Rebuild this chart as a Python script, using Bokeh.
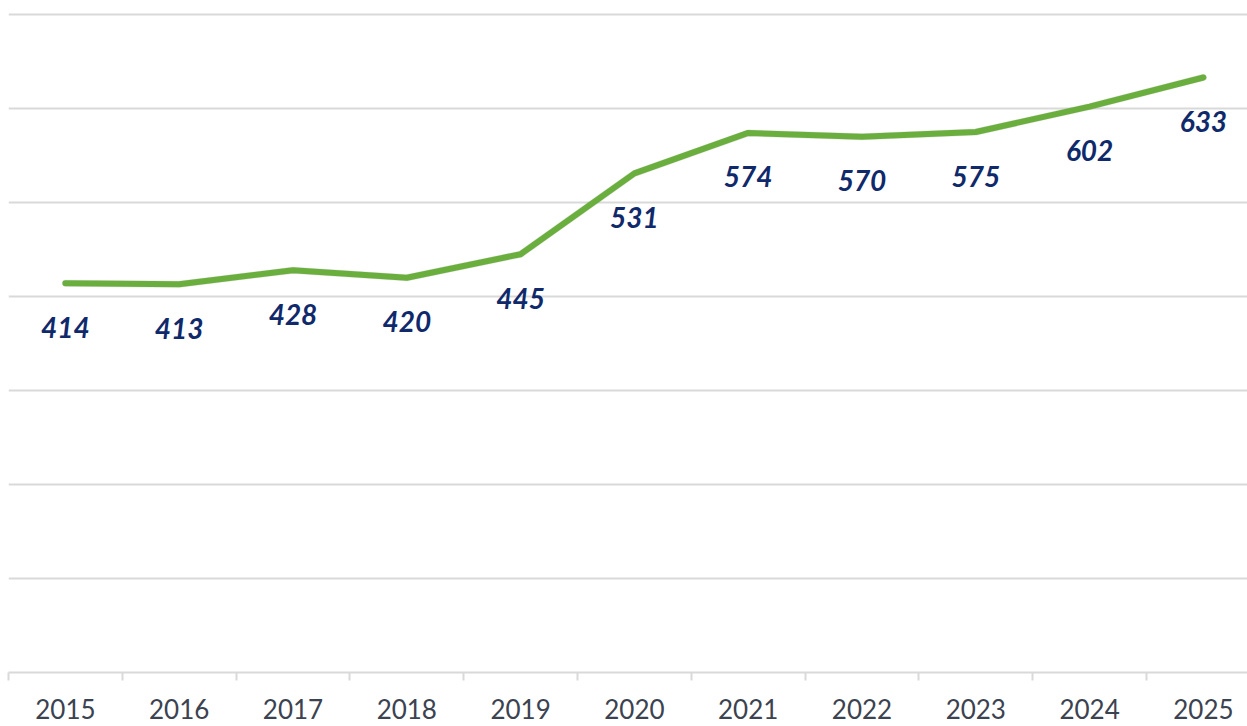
from bokeh.plotting import figure
from bokeh.models import Range1d, FixedTicker, ColumnDataSource
from bokeh.core.properties import value
from bokeh.embed import file_html
from bokeh.resources import INLINE

years = [2015, 2016, 2017, 2018, 2019, 2020, 2021, 2022, 2023, 2024, 2025]
values = [414, 413, 428, 420, 445, 531, 574, 570, 575, 602, 633]
labels = [str(v) for v in values]
grid_ticks = [0, 100, 200, 300, 400, 500, 600, 700]

src = ColumnDataSource(dict(x=years, y=values, t=labels))

W, H = 1247, 726
LEFT, TOP, BOTTOM = 8, 8, 54
px_per_year = 113.8
px_per_unit = 0.94
frame_w = W - LEFT
frame_h = H - TOP - BOTTOM

p = figure(width=W, height=H, output_backend="svg", toolbar_location=None,
           x_range=Range1d(2014.5, 2014.5 + frame_w / px_per_year),
           y_range=Range1d(0, frame_h / px_per_unit),
           min_border_left=LEFT, min_border_right=0, min_border_top=TOP, min_border_bottom=BOTTOM)
p.outline_line_color = None
p.background_fill_color = "white"
p.border_fill_color = "white"

p.yaxis.visible = False
p.ygrid.ticker = FixedTicker(ticks=grid_ticks)
p.ygrid.grid_line_color = "#D9D9D9"
p.ygrid.grid_line_width = 2
p.xgrid.visible = False

ax = p.xaxis[0]
ax.ticker = FixedTicker(ticks=years, minor_ticks=[y - 0.5 for y in years] + [years[-1] + 0.5])
ax.axis_line_color = "#D9D9D9"
ax.axis_line_width = 2
ax.major_tick_line_color = None
ax.minor_tick_line_color = "#D9D9D9"
ax.minor_tick_line_width = 2
ax.minor_tick_out = 8
ax.minor_tick_in = 0
ax.major_label_text_font = "Lato"
ax.major_label_text_font_size = "26px"
ax.major_label_text_color = "#3B4250"
ax.major_label_standoff = 18

# faint shadow
p.line(x="x", y="y", source=src, line_color="#000000", line_alpha=0.10, line_width=7,
       line_cap="round", line_join="round")
p.line(x="x", y="y", source=src, line_color="#6AAF3D", line_width=6,
       line_cap="round", line_join="round")

p.text(x="x", y="y", text="t", source=src, y_offset=44, text_align="center",
       text_baseline="middle", text_font=value("Lato"), text_font_style="bold italic",
       text_font_size="28px", text_color="#10296B")

open("out.html", "w").write(file_html(p, INLINE))
